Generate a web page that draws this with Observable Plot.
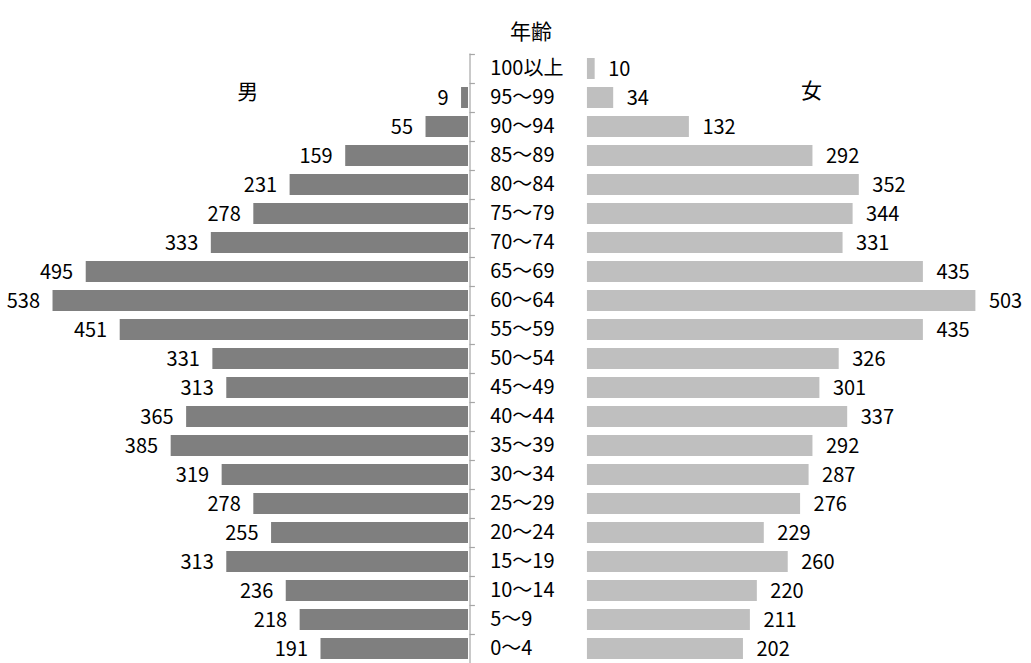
<!DOCTYPE html>
<html>
<head>
<meta charset="utf-8">
<script src="https://cdn.jsdelivr.net/npm/d3@7"></script>
<script src="https://cdn.jsdelivr.net/npm/@observablehq/plot@0.6"></script>
<style>
  html, body { margin: 0; padding: 0; background: #fff; }
  #chart svg { display: block; }
</style>
</head>
<body>
<div id="chart"></div>
<script>
// Age groups, top to bottom
const ages = ["100以上","95〜99","90〜94","85〜89","80〜84","75〜79","70〜74","65〜69","60〜64","55〜59",
              "50〜54","45〜49","40〜44","35〜39","30〜34","25〜29","20〜24","15〜19","10〜14","5〜9","0〜4"];
// Male counts (null = no bar)
const maleValues = [null, 9, 55, 159, 231, 278, 333, 495, 538, 451,
                    331, 313, 365, 385, 319, 278, 255, 313, 236, 218, 191];
// Female counts
const femaleValues = [10, 34, 132, 292, 352, 344, 331, 435, 503, 435,
                      326, 301, 337, 292, 287, 276, 229, 260, 220, 211, 202];
const titleText = "年齢";
const maleLabel = "男";
const femaleLabel = "女";

// layout constants (in value units): female side origin offset, middle label offset
const GAP = 154;
const MID = 28;

const male = ages.map((a, i) => ({age: a, v: maleValues[i]})).filter(d => d.v != null);
const female = ages.map((a, i) => ({age: a, v: femaleValues[i]}));

const font = "'Noto Sans CJK JP', 'Open Sans', sans-serif";

const chart = Plot.plot({
  width: 1031,
  height: 663,
  marginTop: 53.5,
  marginBottom: 0,
  marginLeft: 0,
  marginRight: 0,
  style: {fontFamily: font, fontSize: "20px", color: "#000", background: "#fff"},
  x: {domain: [-606, GAP + 575], axis: null},
  y: {domain: ages, type: "band", paddingInner: 0.28, paddingOuter: 0.14, axis: null},
  marks: [
    // bars
    Plot.barX(male, {x1: d => -d.v, x2: 0, y: "age", fill: "#7f7f7f"}),
    Plot.barX(female, {x1: GAP, x2: d => GAP + d.v, y: "age", fill: "#bfbfbf"}),
    // axis line with ticks at band boundaries
    Plot.ruleX([0], {dx: 1.5, stroke: "#a6a6a6", strokeWidth: 1.2}),
    Plot.ruleY(ages, {y: d => d, x1: 0, x2: 7, dy: -14.5, dx: 1.5, stroke: "#a6a6a6", strokeWidth: 1.2}),
    // value labels
    Plot.text(male, {x: d => -d.v, y: "age", text: d => String(d.v), textAnchor: "end", dx: -13, dy: 1, fill: "#000"}),
    Plot.text(female, {x: d => GAP + d.v, y: "age", text: d => String(d.v), textAnchor: "start", dx: 13, dy: 1, fill: "#000"}),
    // age labels in the middle
    Plot.text(ages, {x: () => MID, y: d => d, text: d => d, textAnchor: "start", dy: 0, fill: "#000"}),
    // titles
    Plot.text([titleText], {frameAnchor: "top", text: d => d, dx: 15, dy: -30, fontSize: 21, fill: "#000"}),
    Plot.text([maleLabel], {x: () => -286, frameAnchor: "top", text: d => d, dy: 30, fontSize: 21, fill: "#000"}),
    Plot.text([femaleLabel], {x: () => GAP + 290, frameAnchor: "top", text: d => d, dy: 29, fontSize: 21, fill: "#000"})
  ]
});
document.getElementById("chart").appendChild(chart);
</script>
</body>
</html>
